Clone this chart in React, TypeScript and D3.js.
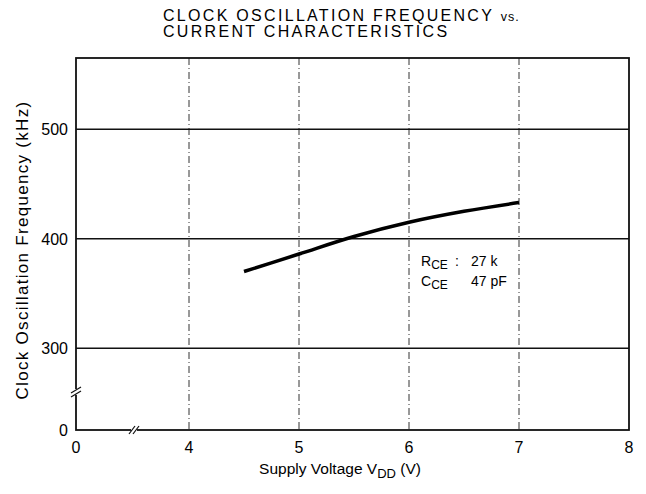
import React, { useEffect, useRef } from 'react';
import * as d3 from 'd3';

// curve
const voltage = [4.5, 5.0, 5.5, 6.0, 6.5, 7.0];
const frequency = [370, 386, 402, 415, 425, 433];

const xTicks = [0, 4, 5, 6, 7, 8];
const xGrid = [4, 5, 6, 7];
const yTicks = [0, 300, 400, 500];
const yGrid = [300, 400, 500];

const W = 646, H = 494;
const FONT = '"Liberation Sans", Arial, sans-serif';

const App = () => {
  const ref = useRef<SVGSVGElement>(null);

  useEffect(() => {
    const svg = d3.select(ref.current);
    svg.selectAll('*').remove();

    // broken axes: piecewise scales
    const x = d3.scaleLinear().domain([0, 3.5, 8]).range([76, 134, 629]);
    const y = d3.scaleLinear().domain([0, 260, 565]).range([430, 392, 58]);

    const g = svg.append('g');

    // vertical dash-dot grid
    g.selectAll('.vg').data(xGrid).enter().append('line')
      .attr('x1', d => x(d)).attr('x2', d => x(d))
      .attr('y1', y(565)).attr('y2', y(0))
      .attr('stroke', '#333').attr('stroke-width', 1)
      .attr('stroke-dasharray', '7,3,1,3');

    // horizontal grid
    g.selectAll('.hg').data(yGrid).enter().append('line')
      .attr('x1', x(0)).attr('x2', x(8))
      .attr('y1', d => y(d)).attr('y2', d => y(d))
      .attr('stroke', '#111').attr('stroke-width', 1.5);

    // frame
    g.append('rect')
      .attr('x', x(0)).attr('y', y(565))
      .attr('width', x(8) - x(0)).attr('height', y(0) - y(565))
      .attr('fill', 'none').attr('stroke', '#111').attr('stroke-width', 1.8);

    // break marks
    const bx = x(3.5), by = y(260);
    g.append('rect').attr('x', bx - 3).attr('y', y(0) - 3).attr('width', 6).attr('height', 6).attr('fill', '#fff');
    [-2, 2].forEach(o => {
      g.append('line')
        .attr('x1', bx + o - 3).attr('y1', y(0) + 4)
        .attr('x2', bx + o + 3).attr('y2', y(0) - 4)
        .attr('stroke', '#111').attr('stroke-width', 1.2);
    });
    g.append('rect').attr('x', x(0) - 3).attr('y', by - 3).attr('width', 6).attr('height', 6).attr('fill', '#fff');
    [-2, 2].forEach(o => {
      g.append('line')
        .attr('x1', x(0) - 5).attr('y1', by + o + 3)
        .attr('x2', x(0) + 5).attr('y2', by + o - 3)
        .attr('stroke', '#111').attr('stroke-width', 1.2);
    });

    // curve
    const pts = voltage.map((v, i) => [v, frequency[i]] as [number, number]);
    g.append('path')
      .datum(pts)
      .attr('d', d3.line<[number, number]>()
        .x(d => x(d[0])).y(d => y(d[1]))
        .curve(d3.curveMonotoneX))
      .attr('fill', 'none').attr('stroke', '#000').attr('stroke-width', 3.5);

    // tick labels
    g.selectAll('.xt').data(xTicks).enter().append('text')
      .attr('x', d => x(d)).attr('y', 453)
      .attr('text-anchor', 'middle')
      .style('font-family', FONT).style('font-size', '16px')
      .text(d => d);
    g.selectAll('.yt').data(yTicks).enter().append('text')
      .attr('x', 68).attr('y', d => y(d) + 6)
      .attr('text-anchor', 'end')
      .style('font-family', FONT).style('font-size', '16px')
      .text(d => d);

    // axis titles
    const xl = g.append('text')
      .attr('x', 340).attr('y', 474).attr('text-anchor', 'middle')
      .style('font-family', FONT).style('font-size', '15.5px');
    xl.append('tspan').text('Supply Voltage V');
    xl.append('tspan').attr('dy', 4).style('font-size', '13px').text('DD');
    xl.append('tspan').attr('dy', -4).text(' (V)');

    g.append('text')
      .attr('transform', 'translate(28,250) rotate(-90)')
      .attr('text-anchor', 'middle')
      .style('font-family', FONT).style('font-size', '17px').style('letter-spacing', '1.3px')
      .text('Clock Oscillation Frequency (kHz)');

    // annotation
    const a1 = g.append('text').attr('x', 421).attr('y', 266)
      .style('font-family', FONT).style('font-size', '14px');
    a1.append('tspan').text('R');
    a1.append('tspan').attr('dy', 3).style('font-size', '12px').text('CE');
    g.append('text').attr('x', 455).attr('y', 266)
      .style('font-family', FONT).style('font-size', '14px').text(':');
    g.append('text').attr('x', 471).attr('y', 266)
      .style('font-family', FONT).style('font-size', '14px').text('27 k');
    const a2 = g.append('text').attr('x', 421).attr('y', 286)
      .style('font-family', FONT).style('font-size', '14px');
    a2.append('tspan').text('C');
    a2.append('tspan').attr('dy', 3).style('font-size', '12px').text('CE');
    g.append('text').attr('x', 471).attr('y', 286)
      .style('font-family', FONT).style('font-size', '14px').text('47 pF');

    // title
    const t1 = g.append('text').attr('x', 163).attr('y', 21)
      .style('font-family', FONT).style('font-size', '16px').style('letter-spacing', '2.3px');
    t1.append('tspan').text('CLOCK OSCILLATION FREQUENCY ');
    t1.append('tspan').style('font-size', '12.5px').style('letter-spacing', '1px').text('vs.');
    g.append('text').attr('x', 163).attr('y', 37)
      .style('font-family', FONT).style('font-size', '16px').style('letter-spacing', '2.3px')
      .text('CURRENT CHARACTERISTICS');
  }, []);

  return (
    <svg ref={ref} width={W} height={H}
      style={{ position: 'absolute', left: 0, top: 0, background: '#fff' }} />
  );
};

export default App;
